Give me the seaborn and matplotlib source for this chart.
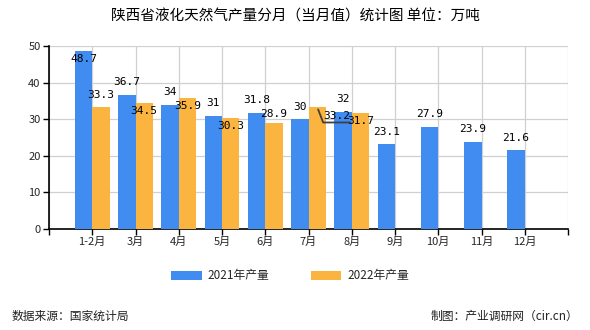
import matplotlib
matplotlib.use("Agg")
import matplotlib.pyplot as plt
import matplotlib.transforms as mtransforms
from matplotlib.lines import Line2D
import seaborn as sns
import pandas as pd
import numpy as np

months = ["1-2月", "3月", "4月", "5月", "6月", "7月", "8月", "9月", "10月", "11月", "12月"]
y2021 = [48.7, 36.7, 34, 31, 31.8, 30, 32, 23.1, 27.9, 23.9, 21.6]
y2022 = [33.3, 34.5, 35.9, 30.3, 28.9, 33.2, 31.7, None, None, None, None]
series = ["2021年产量", "2022年产量"]
yticks = [0, 10, 20, 30, 40, 50]

title = "陕西省液化天然气产量分月（当月值）统计图 单位：万吨"
source = "数据来源：国家统计局"
credit = "制图：产业调研网（cir.cn）"

# label vertical offsets (pixels, label centre relative to bar top)
dy2021 = [-8, 12.5, 12.5, 12.5, 12.5, 12, 13, 12.5, 13, 12.5, 12]
dy2022 = [12, -8, -8, -8, 9, -8.5, -8]
dx2022 = [0, 0, 0, 0, 0, 20, 0]

rows = []
for m, a, b in zip(months, y2021, y2022):
    rows.append({"month": m, "series": series[0], "value": a})
    rows.append({"month": m, "series": series[1], "value": b if b is not None else np.nan})
df = pd.DataFrame(rows)

sns.set_theme(style="white")
plt.rcParams["font.family"] = ["Noto Sans CJK SC", "DejaVu Sans"]

fig = plt.figure(figsize=(5.9, 3.3), dpi=100)
ax = fig.add_axes([49/590, 1-229/330, (568-49)/590, (229-46)/330])

colors = ["#418CF0", "#FCB441"]
sns.barplot(data=df, x="month", y="value", hue="series", palette=colors,
            width=0.8, gap=0, ax=ax, legend=False, saturation=1, zorder=3,
            edgecolor="none", linewidth=0)

ax.set_xlim(-1, 11)
ax.set_ylim(0, 50)
ax.set_yticks(yticks)
ax.set_xticks(list(range(-1, 12)))
ax.set_xticklabels([""] + months + [""])
ax.set_xlabel("")
ax.set_ylabel("")
ax.grid(True, color="#D0D0D0", linewidth=0.9, zorder=0)
ax.set_axisbelow(True)
for s in ["top", "right"]:
    ax.spines[s].set_visible(False)
ax.spines["left"].set_color("black")
ax.spines["bottom"].set_color("black")
ax.spines["left"].set_linewidth(1.2)
ax.spines["bottom"].set_linewidth(1.2)
ax.tick_params(axis="both", which="both", length=4, width=1, color="black",
               labelsize=8, direction="out", bottom=True, left=True)
ax.tick_params(axis="x", pad=2)
ax.tick_params(axis="y", pad=2)

mono = ["DejaVu Sans Mono"]
bw = 0.4
for i, v in enumerate(y2021):
    ax.annotate(str(v), xy=(i - bw/2, v), xytext=(0, dy2021[i]), textcoords="offset pixels",
                ha="center", va="center", fontsize=8, family=mono, color="black", zorder=5)
for i, v in enumerate(y2022):
    if v is None:
        continue
    ax.annotate(str(v), xy=(i + bw/2, v), xytext=(dx2022[i], dy2022[i]), textcoords="offset pixels",
                ha="center", va="center", fontsize=8, family=mono, color="black", zorder=5)
    if dx2022[i] != 0:
        # leader line from bar top to shifted label
        px, py = ax.transData.transform((i + bw/2, v))
        leader = Line2D([1, 6, 33], [-2, -15, -15], color="#404040", lw=1.3,
                        transform=mtransforms.Affine2D().translate(px, py), zorder=6)
        fig.add_artist(leader)

from matplotlib.patches import Patch
handles = [Patch(facecolor=c, edgecolor="none") for c in colors]
fig.legend(handles, series, loc="center", bbox_to_anchor=(290/590, 1-276/330), ncol=2,
           frameon=False, fontsize=8.5, handlelength=2.6, handleheight=0.9,
           columnspacing=3.5, handletextpad=0.5)

fig.text(295/590, 1-17/330, title, ha="center", va="center", fontsize=10.5, color="black")
fig.text(12/590, 1-316/330, source, ha="left", va="center", fontsize=8.5, color="#222222")
fig.text(578/590, 1-316/330, credit, ha="right", va="center", fontsize=8.5, color="#222222")

fig.savefig("out.png", dpi=100)
